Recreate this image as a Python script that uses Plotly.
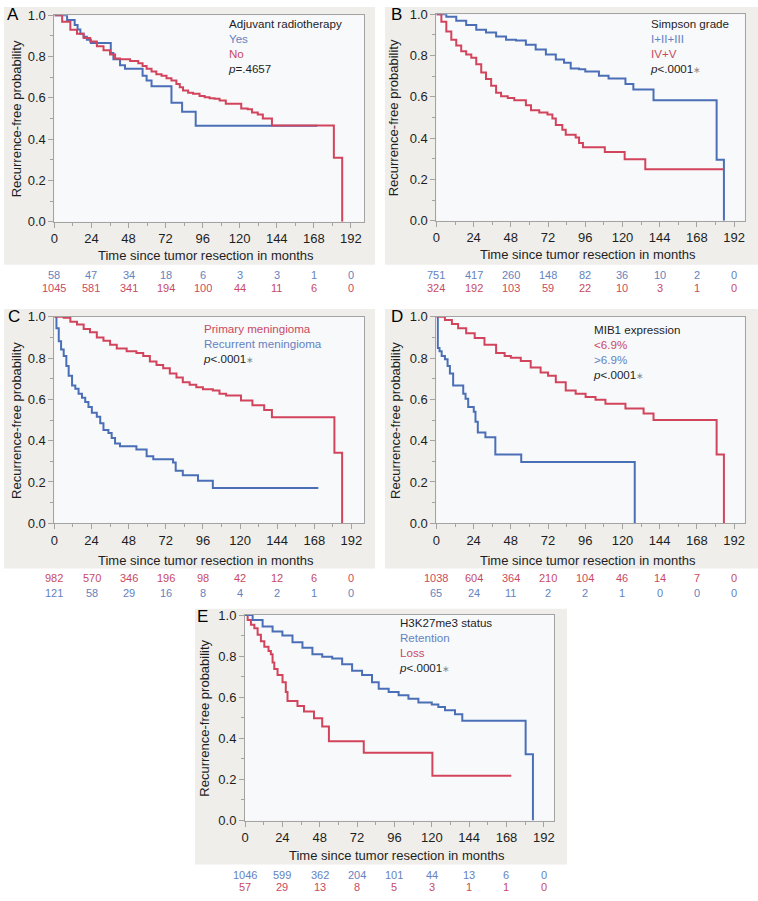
import plotly.graph_objects as go

W, H = 758, 901

# ---------------- data ----------------
ticks_months = [0, 24, 48, 72, 96, 120, 144, 168, 192]

A_yes_t = [0, 8.2, 13.1, 15, 16.8, 18.9, 21, 23.6, 36.5, 38.2, 42.5, 45.7, 57.1, 59.7, 62.9, 75.8, 82.7, 91.5, 170.3]
A_yes_s = [1, 0.976, 0.952, 0.93, 0.91, 0.895, 0.881, 0.865, 0.817, 0.786, 0.757, 0.741, 0.706, 0.683, 0.656, 0.576, 0.532, 0.465, 0.465]
A_no_t = [0, 5, 10.3, 14.6, 18.9, 23.2, 27.5, 31.8, 36, 39.3, 42.5, 49, 54.3, 57.1, 59.7, 62.9, 66, 69.4, 72.6, 75.8, 79, 81.2, 83.3, 86.6, 89.8, 94, 97.3, 100.5, 103.7, 107, 111, 121, 125.2, 128, 131.7, 135, 140.9, 181, 186.4]
A_no_s = [1, 0.968, 0.929, 0.91, 0.889, 0.873, 0.849, 0.83, 0.81, 0.79, 0.786, 0.778, 0.767, 0.754, 0.741, 0.727, 0.714, 0.706, 0.694, 0.683, 0.667, 0.651, 0.635, 0.624, 0.619, 0.608, 0.603, 0.598, 0.595, 0.587, 0.571, 0.548, 0.544, 0.529, 0.519, 0.5, 0.466, 0.31, 0]
A_yes_risk = [58, 47, 34, 18, 6, 3, 3, 1, 0]
A_no_risk = [1045, 581, 341, 194, 100, 44, 11, 6, 0]

B_low_t = [0, 6.4, 12.8, 19.2, 25.7, 32, 38.5, 44.9, 51.3, 57.7, 64, 70.6, 77, 82.3, 86.6, 92, 96, 104.8, 111, 121.9, 127, 140, 180.7, 185.4]
B_low_s = [1, 0.987, 0.968, 0.948, 0.924, 0.911, 0.892, 0.876, 0.873, 0.852, 0.829, 0.805, 0.781, 0.765, 0.737, 0.733, 0.722, 0.702, 0.689, 0.662, 0.635, 0.583, 0.295, 0]
B_high_t = [0, 3.2, 6.4, 9.6, 12.8, 16, 19.2, 22.5, 25.7, 28.9, 32, 35.3, 38.5, 41.7, 46, 50.2, 57.7, 61, 66.3, 71.6, 74.8, 77, 81.2, 83.4, 89.8, 92, 94.5, 108.6, 121.4, 134.7, 185]
B_high_s = [1, 0.963, 0.916, 0.876, 0.848, 0.821, 0.805, 0.789, 0.757, 0.717, 0.686, 0.654, 0.619, 0.603, 0.594, 0.583, 0.559, 0.535, 0.524, 0.514, 0.495, 0.463, 0.44, 0.416, 0.403, 0.376, 0.356, 0.333, 0.297, 0.249, 0.249]
B_low_risk = [751, 417, 260, 148, 82, 36, 10, 2, 0]
B_high_risk = [324, 192, 103, 59, 22, 10, 3, 1, 0]

C_prim_t = [0, 6, 10.3, 14.6, 18.9, 23, 27.4, 31.7, 36, 40.3, 46.7, 53, 57.4, 61.7, 66, 70.3, 74.6, 78.9, 83, 87.4, 91.7, 96, 102.4, 106.7, 111, 120.6, 128, 135.6, 140.6, 181, 186]
C_prim_s = [1, 0.995, 0.976, 0.963, 0.941, 0.925, 0.9, 0.884, 0.865, 0.846, 0.833, 0.825, 0.81, 0.783, 0.767, 0.751, 0.725, 0.706, 0.683, 0.671, 0.659, 0.649, 0.643, 0.627, 0.619, 0.595, 0.571, 0.548, 0.513, 0.341, 0]
C_rec_t = [0, 1.3, 2.8, 4.3, 6, 7.7, 9.2, 11.4, 13.5, 15.6, 17.8, 19.9, 22, 24.2, 27.4, 29.6, 31.7, 34.9, 37, 39.2, 42.4, 53, 59.6, 63.9, 76.7, 78.4, 83, 92.8, 102.4, 170.6]
C_rec_s = [1, 0.944, 0.881, 0.841, 0.81, 0.762, 0.714, 0.667, 0.651, 0.627, 0.608, 0.587, 0.563, 0.535, 0.516, 0.484, 0.452, 0.437, 0.413, 0.386, 0.373, 0.357, 0.325, 0.31, 0.294, 0.254, 0.233, 0.206, 0.171, 0.171]
C_prim_risk = [982, 570, 346, 196, 98, 42, 12, 6, 0]
C_rec_risk = [121, 58, 29, 16, 8, 4, 2, 1, 0]

D_low_t = [0, 5.5, 10, 14, 19.2, 24.7, 31, 38.5, 44, 48, 54.4, 60.8, 67.2, 72, 77, 83.4, 89.8, 96.2, 102.6, 109, 121.9, 133.6, 140, 180.7, 185.4]
D_low_s = [1, 0.984, 0.965, 0.944, 0.92, 0.897, 0.865, 0.825, 0.81, 0.802, 0.786, 0.754, 0.73, 0.714, 0.683, 0.643, 0.627, 0.611, 0.598, 0.579, 0.556, 0.532, 0.5, 0.333, 0]
D_high_t = [0, 0.9, 2, 3.4, 5.5, 7.2, 8.7, 10.8, 17.3, 18.8, 20.5, 24.1, 25.2, 26.7, 31.6, 38, 54.7, 127.9]
D_high_s = [1, 0.849, 0.833, 0.81, 0.794, 0.762, 0.725, 0.667, 0.627, 0.603, 0.563, 0.54, 0.492, 0.44, 0.417, 0.333, 0.297, 0]
D_low_risk = [1038, 604, 364, 210, 104, 46, 14, 7, 0]
D_high_risk = [65, 24, 11, 2, 2, 1, 0, 0, 0]

E_ret_t = [0, 4.9, 11.3, 17.7, 24, 30.5, 36.9, 43.3, 49.6, 56, 62.4, 68.8, 75.2, 81.6, 85.9, 92.3, 98.7, 105, 111.4, 120, 124.2, 128.5, 134.9, 139.6, 180.3, 185]
E_ret_s = [1, 0.976, 0.944, 0.92, 0.9, 0.868, 0.841, 0.809, 0.797, 0.788, 0.761, 0.729, 0.708, 0.673, 0.641, 0.625, 0.609, 0.593, 0.574, 0.565, 0.553, 0.537, 0.517, 0.485, 0.322, 0]
E_loss_t = [0, 1.7, 3.8, 6, 8.1, 10.2, 12.4, 15.1, 16.6, 17.7, 18.8, 20.9, 24.1, 26.2, 27.3, 33.7, 37.9, 44.3, 49.6, 53.9, 76.3, 120.4, 171.1]
E_loss_s = [1, 0.976, 0.952, 0.936, 0.904, 0.872, 0.845, 0.825, 0.809, 0.769, 0.737, 0.708, 0.673, 0.625, 0.582, 0.557, 0.53, 0.498, 0.458, 0.386, 0.33, 0.218, 0.218]
E_ret_risk = [1046, 599, 362, 204, 101, 44, 13, 6, 0]
E_loss_risk = [57, 29, 13, 8, 5, 3, 1, 1, 0]

# ---------------- styling ----------------
BLUE = "#4a6fb6"
RED = "#d2445c"
BLUE_T = "#6482c0"
RED_T = "#c94a5f"
PANEL_BG = "#efeeeb"
PLOT_BG = "#f8f9fb"
FRAME = "#a3a3a3"
TXT = "#1e1e1e"
FONT = "Liberation Sans, Arial, Helvetica, sans-serif"


def px(x):
    return x / W


def py(y):
    return 1 - y / H


# panel geometry (pixels): plot left, plot right, y of 1.0, y of 0.0, px per month
panels = [
    dict(key="A", left=50.7, right=362, top=8.3, bot=218.3, ppm=1.552,
         bg=(0, 0, 373, 262), letter=(9, 8), ytitle_x=12, xtitle=(203, 252.7),
         risk_y=(272.7, 286)),
    dict(key="B", left=434.7, right=744.7, top=7.3, bot=217.3, ppm=1.559,
         bg=(383, 0, 758, 262), letter=(395, 8), ytitle_x=391, xtitle=(587, 251.5),
         risk_y=(272.7, 286)),
    dict(key="C", left=50.7, right=362, top=315, bot=525, ppm=1.555,
         bg=(0, 307, 373, 571), letter=(10.5, 315), ytitle_x=12, xtitle=(203, 562.7),
         risk_y=(581, 595.5)),
    dict(key="D", left=434.7, right=744.7, top=315, bot=525, ppm=1.559,
         bg=(383, 307, 758, 571), letter=(395, 315), ytitle_x=393, xtitle=(587, 562.7),
         risk_y=(581, 595.5)),
    dict(key="E", left=242.3, right=553.3, top=618.3, bot=827.3, ppm=1.5646,
         bg=(192, 612, 566, 872), letter=(200, 620), ytitle_x=202, xtitle=(395, 863),
         risk_y=(882.3, 894.5)),
]

curves = {
    "A": [(A_yes_t, A_yes_s, BLUE), (A_no_t, A_no_s, RED)],
    "B": [(B_low_t, B_low_s, BLUE), (B_high_t, B_high_s, RED)],
    "C": [(C_rec_t, C_rec_s, BLUE), (C_prim_t, C_prim_s, RED)],
    "D": [(D_high_t, D_high_s, BLUE), (D_low_t, D_low_s, RED)],
    "E": [(E_loss_t, E_loss_s, RED), (E_ret_t, E_ret_s, BLUE)],
}

risks = {
    "A": [(A_yes_risk, BLUE_T), (A_no_risk, RED_T)],
    "B": [(B_low_risk, BLUE_T), (B_high_risk, RED_T)],
    "C": [(C_prim_risk, RED_T), (C_rec_risk, BLUE_T)],
    "D": [(D_low_risk, RED_T), (D_high_risk, BLUE_T)],
    "E": [(E_ret_risk, BLUE_T), (E_loss_risk, RED_T)],
}

PSIG = '<i>p</i>&lt;.0001<span style="color:#8a8a8a;font-size:9px">∗</span>'


def span(txt, col):
    return f'<span style="color:{col}">{txt}</span>'


# legend blocks: left x, vertical centre of the block, lines
legends = {
    "A": (222.7, 39.2, [("Adjuvant radiotherapy", TXT), ("Yes", BLUE_T), ("No", RED_T),
                        ("<i>p</i>=.4657", TXT)]),
    "B": (647.3, 39.2, [("Simpson grade", TXT), ("I+II+III", BLUE_T), ("IV+V", RED_T),
                        (PSIG, TXT)]),
    "C": (197.7, 342.2, [("Primary meningioma", RED_T), ("Recurrent meningioma", BLUE_T),
                         (PSIG, TXT)]),
    "D": (589.7, 350.5, [("MIB1 expression", TXT), ("&lt;6.9%", RED_T), ("&gt;6.9%", BLUE_T),
                         (PSIG, TXT)]),
    "E": (395, 649.3, [("H3K27me3 status", TXT), ("Retention", BLUE_T), ("Loss", RED_T),
                       (PSIG, TXT)]),
}
LEG_SIZE = 11.6

fig = go.Figure()
shapes = []
annotations = []
layout_axes = {}

for i, p in enumerate(panels):
    n = i + 1
    xa = "x" if n == 1 else f"x{n}"
    ya = "y" if n == 1 else f"y{n}"
    xmax = (p["right"] - p["left"]) / p["ppm"]

    # backgrounds
    x0, y0, x1, y1 = p["bg"]
    shapes.append(dict(type="rect", xref="paper", yref="paper", x0=px(x0), x1=px(x1),
                       y0=py(y1), y1=py(y0), fillcolor=PANEL_BG, line_width=0, layer="below"))
    shapes.append(dict(type="rect", xref="paper", yref="paper", x0=px(p["left"]), x1=px(p["right"]),
                       y0=py(p["bot"]), y1=py(p["top"]), fillcolor=PLOT_BG, line_width=0, layer="below"))

    for t, s, col in curves[p["key"]]:
        fig.add_trace(go.Scatter(x=t, y=s, mode="lines", line=dict(color=col, width=2, shape="hv"),
                                 xaxis=xa, yaxis=ya, showlegend=False, hoverinfo="skip",
                                 cliponaxis=False))

    axis_common = dict(showgrid=False, zeroline=False, showline=True, linecolor=FRAME, linewidth=1,
                       mirror=True, ticks="outside", ticklen=5, tickcolor=FRAME, tickwidth=1,
                       tickfont=dict(family=FONT, size=13, color=TXT))
    layout_axes["xaxis" if n == 1 else f"xaxis{n}"] = dict(
        axis_common, domain=[px(p["left"]), px(p["right"])], range=[0, xmax],
        anchor=ya, tickmode="array", tickvals=ticks_months,
        ticktext=[str(v) for v in ticks_months],
        minor=dict(dtick=12, tick0=0, ticklen=3, ticks="outside", tickcolor=FRAME))
    layout_axes["yaxis" if n == 1 else f"yaxis{n}"] = dict(
        axis_common, domain=[py(p["bot"]), py(p["top"])], range=[0, 1],
        anchor=xa, tickmode="array", tickvals=[0, 0.2, 0.4, 0.6, 0.8, 1.0],
        ticktext=["0.0", "0.2", "0.4", "0.6", "0.8", "1.0"],
        minor=dict(dtick=0.1, tick0=0, ticklen=3, ticks="outside", tickcolor=FRAME))

    # panel letter
    lx, ly = p["letter"]
    annotations.append(dict(text=p["key"], x=px(lx), y=py(ly), xref="paper", yref="paper",
                            showarrow=False, xanchor="center", yanchor="middle",
                            font=dict(family=FONT, size=17, color="#000")))
    # axis titles
    annotations.append(dict(text="Recurrence-free probability", x=px(p["ytitle_x"]),
                            y=py((p["top"] + p["bot"]) / 2), xref="paper", yref="paper",
                            showarrow=False, textangle=-90, xanchor="center", yanchor="middle",
                            font=dict(family=FONT, size=13, color=TXT)))
    tx, ty = p["xtitle"]
    annotations.append(dict(text="Time since tumor resection in months", x=px(tx), y=py(ty),
                            xref="paper", yref="paper", showarrow=False,
                            xanchor="center", yanchor="middle",
                            font=dict(family=FONT, size=13, color=TXT)))
    # numbers at risk
    for (vals, col), ry in zip(risks[p["key"]], p["risk_y"]):
        for tm, v in zip(ticks_months, vals):
            annotations.append(dict(text=str(v), x=tm, y=py(ry), xref=xa, yref="paper",
                                    showarrow=False, xanchor="center", yanchor="middle",
                                    font=dict(family=FONT, size=11, color=col)))
    # legend block (one multi-line text)
    lgx, lgy, items = legends[p["key"]]
    block = "<br>".join(span(txt, col) for txt, col in items)
    annotations.append(dict(text=block, x=px(lgx), y=py(lgy),
                            xref="paper", yref="paper", showarrow=False, align="left",
                            xanchor="left", yanchor="middle",
                            font=dict(family=FONT, size=LEG_SIZE, color=TXT)))

fig.update_layout(width=W, height=H, margin=dict(l=0, r=0, t=0, b=0),
                  paper_bgcolor="white", plot_bgcolor="rgba(0,0,0,0)",
                  shapes=shapes, annotations=annotations, showlegend=False,
                  font=dict(family=FONT), **layout_axes)

fig.write_html("out.html", config={"displayModeBar": False},
               post_script="document.body.style.margin='0';")
